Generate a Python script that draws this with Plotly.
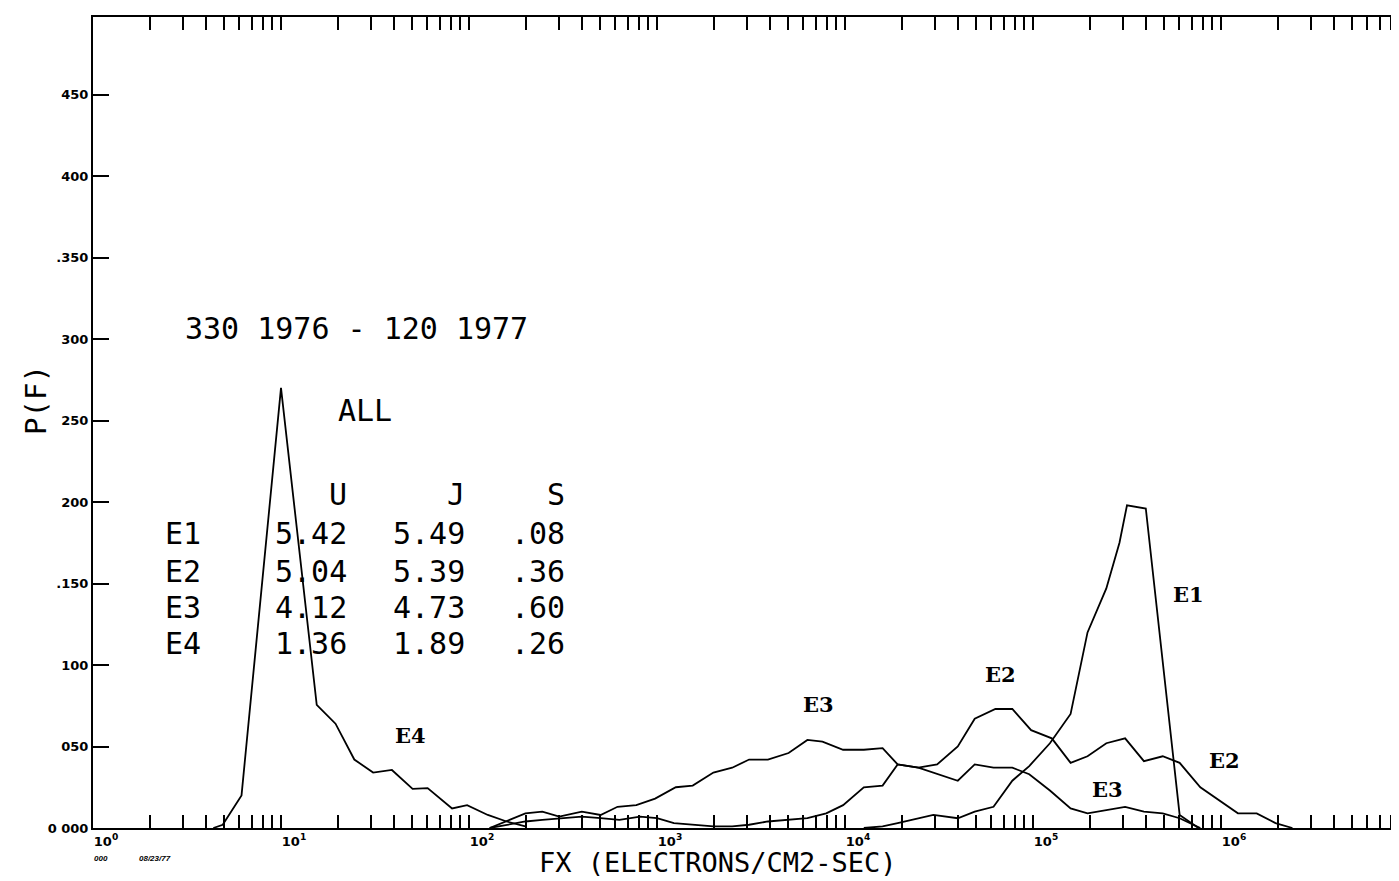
import plotly.graph_objects as go

# ---- data (log10 of FX, and P(F)) ----
E4_LOGFX = [0.64, 0.69, 0.79, 1.00, 1.19, 1.29, 1.39, 1.49, 1.59, 1.70, 1.78, 1.85, 1.91, 1.99, 2.10, 2.20, 2.30]
E4_P = [0.000, 0.002, 0.020, 0.270, 0.0755, 0.064, 0.042, 0.034, 0.0356, 0.024, 0.0245, 0.018, 0.012, 0.014, 0.008, 0.004, 0.001]

E3_LOGFX = [2.11, 2.30, 2.39, 2.48, 2.60, 2.70, 2.79, 2.89, 2.99, 3.10, 3.19, 3.30, 3.40, 3.49, 3.59, 3.70,
            3.80, 3.88, 3.99, 4.10, 4.20, 4.28, 4.39, 4.49, 4.60, 4.69, 4.79, 4.89, 4.98, 5.09, 5.20, 5.29,
            5.39, 5.49, 5.59, 5.69, 5.78, 5.89]
E3_P = [0.000, 0.009, 0.010, 0.007, 0.010, 0.008, 0.013, 0.014, 0.018, 0.025, 0.026, 0.034, 0.037, 0.042, 0.042, 0.046,
        0.054, 0.053, 0.048, 0.048, 0.049, 0.039, 0.037, 0.033, 0.029, 0.039, 0.037, 0.037, 0.033, 0.023, 0.012, 0.009,
        0.011, 0.013, 0.010, 0.009, 0.006, 0.000]

E2_LOGFX = [2.11, 2.30, 2.39, 2.48, 2.60, 2.70, 2.80, 2.91, 3.00, 3.09, 3.19, 3.30, 3.40, 3.49, 3.59, 3.70,
            3.80, 3.90, 3.99, 4.10, 4.20, 4.28, 4.39, 4.49, 4.60, 4.69, 4.80, 4.89, 4.99, 5.10, 5.20, 5.29,
            5.39, 5.49, 5.59, 5.69, 5.78, 5.89, 5.98, 6.09, 6.19, 6.29, 6.38]
E2_P = [0.000, 0.004, 0.005, 0.006, 0.007, 0.006, 0.005, 0.007, 0.006, 0.003, 0.002, 0.001, 0.001, 0.002, 0.004, 0.005,
        0.006, 0.009, 0.014, 0.025, 0.026, 0.039, 0.037, 0.039, 0.050, 0.067, 0.073, 0.073, 0.060, 0.055, 0.040, 0.044,
        0.052, 0.055, 0.041, 0.044, 0.040, 0.025, 0.018, 0.009, 0.009, 0.003, 0.000]

E1_LOGFX = [4.10, 4.20, 4.28, 4.39, 4.47, 4.60, 4.69, 4.79, 4.89, 4.98, 5.09, 5.20, 5.29, 5.39, 5.46, 5.50, 5.60, 5.78, 5.88]
E1_P = [0.000, 0.001, 0.003, 0.006, 0.008, 0.006, 0.010, 0.013, 0.029, 0.038, 0.052, 0.070, 0.120, 0.147, 0.175, 0.198, 0.196, 0.008, 0.000]

Y_TICKS = [0.0, 0.05, 0.10, 0.15, 0.20, 0.25, 0.30, 0.35, 0.40, 0.45]
Y_TICK_TEXT = ["0 000", "050", "100", ".150", "200", "250", "300", ".350", "400", "450"]
DECADES = [0, 1, 2, 3, 4, 5, 6]

TABLE_ROWS = ["E1", "E2", "E3", "E4"]
TABLE_U = ["5.42", "5.04", "4.12", "1.36"]
TABLE_J = ["5.49", "5.39", "4.73", "1.89"]
TABLE_S = [".08", ".36", ".60", ".26"]

TITLE_TEXT = "330 1976 - 120 1977"

# ---- figure ----
fig = go.Figure()
line = dict(color="black", width=1.8)
for name, lx, p in [("E1", E1_LOGFX, E1_P), ("E2", E2_LOGFX, E2_P), ("E3", E3_LOGFX, E3_P), ("E4", E4_LOGFX, E4_P)]:
    fig.add_trace(go.Scatter(x=[10 ** v for v in lx], y=p, mode="lines", line=line, name=name,
                             showlegend=False, hoverinfo="skip"))

# log ticks: every 1..9 x 10^k, labels at decades only
tickvals, ticktext = [], []
for k in DECADES:
    for m in range(1, 10):
        tickvals.append(m * 10 ** k)
        ticktext.append(f"10<sup>{k}</sup>" if m == 1 else "")

OFF = 8                      # page body margin
W, H = 1399 - OFF, 881 - OFF
PL, PT, PB, PR = 93, 17, 828, 1399   # plot-area edges in page pixels
DEC = 188.0                  # px per decade
UNIT = 1630.0                # px per 1.0 of P(F)
XMAX_LOG = (PR - PL) / DEC
YMAX = (PB - PT) / UNIT

fig.update_layout(
    width=W, height=H,
    margin=dict(l=PL - OFF, r=0, t=PT - OFF, b=H - (PB - OFF)),
    paper_bgcolor="white", plot_bgcolor="white",
    showlegend=False,
    xaxis=dict(type="log", range=[0, XMAX_LOG], showgrid=False, zeroline=False,
               showline=True, linecolor="black", linewidth=2, mirror="ticks",
               ticks="inside", ticklen=13, tickwidth=2, tickcolor="black",
               tickvals=tickvals, ticktext=ticktext, ticklabelshift=13, ticklabelstandoff=0,
               tickfont=dict(family="DejaVu Sans", size=13, color="black", weight="bold")),
    yaxis=dict(range=[0, YMAX], showgrid=False, zeroline=False,
               showline=True, linecolor="black", linewidth=2,
               ticks="inside", ticklen=16, tickwidth=2, tickcolor="black",
               tickvals=Y_TICKS, ticktext=Y_TICK_TEXT,
               tickfont=dict(family="DejaVu Sans", size=13, color="black", weight="bold")),
    yaxis2=dict(range=[0, YMAX], overlaying="y", side="right", anchor="x", showgrid=False,
                zeroline=False, showline=False, ticks="inside", ticklen=10, tickwidth=2,
                tickcolor="black", tickvals=Y_TICKS, showticklabels=False),
)

def px_to_logx(px):
    return (px - PL) / DEC

def py_to_y(py):
    return (PB - py) / UNIT

def px_paper(px):
    return (px - PL) / (PR - PL)

def py_paper(py):
    return (PB - py) / (PB - PT)

mono = dict(family="DejaVu Sans Mono", size=30, color="black")
serif = dict(family="DejaVu Serif", size=21, color="black", weight="bold")

ann = []
ann.append(dict(x=px_to_logx(356), y=py_to_y(328), text=TITLE_TEXT, xanchor="center", yanchor="middle", font=mono))
ann.append(dict(x=px_to_logx(365), y=py_to_y(410), text="ALL", xanchor="center", yanchor="middle", font=mono))
ann.append(dict(x=px_to_logx(349), y=py_to_y(494), text="U", xanchor="right", yanchor="middle", font=mono))
ann.append(dict(x=px_to_logx(467), y=py_to_y(494), text="J", xanchor="right", yanchor="middle", font=mono))
ann.append(dict(x=px_to_logx(567), y=py_to_y(494), text="S", xanchor="right", yanchor="middle", font=mono))
row_y = [533, 571, 607, 643]
for i, ry in enumerate(row_y):
    ann.append(dict(x=px_to_logx(163), y=py_to_y(ry), text=TABLE_ROWS[i], xanchor="left", yanchor="middle", font=mono))
    ann.append(dict(x=px_to_logx(349), y=py_to_y(ry), text=TABLE_U[i], xanchor="right", yanchor="middle", font=mono))
    ann.append(dict(x=px_to_logx(467), y=py_to_y(ry), text=TABLE_J[i], xanchor="right", yanchor="middle", font=mono))
    ann.append(dict(x=px_to_logx(567), y=py_to_y(ry), text=TABLE_S[i], xanchor="right", yanchor="middle", font=mono))

curve_labels = [("E4", 410, 735), ("E3", 818, 704), ("E2", 1000, 674), ("E1", 1188, 594),
                ("E2", 1224, 760), ("E3", 1107, 789)]
for t, cx, cy in curve_labels:
    ann.append(dict(x=px_to_logx(cx), y=py_to_y(cy), text=t, xanchor="center", yanchor="middle", font=serif))

for a in ann:
    a.update(xref="x", yref="y", showarrow=False)

# axis titles and small plot stamp (paper coordinates)
ann.append(dict(x=px_paper(718), y=py_paper(862), xref="paper", yref="paper", xanchor="center", yanchor="middle",
                text="FX (ELECTRONS/CM2-SEC)", showarrow=False,
                font=dict(family="DejaVu Sans Mono", size=27, color="black")))
ann.append(dict(x=px_paper(36), y=py_paper(400), xref="paper", yref="paper", xanchor="center", yanchor="middle",
                text="P(F)", textangle=-90, showarrow=False,
                font=dict(family="DejaVu Sans Mono", size=29, color="black")))
ann.append(dict(x=px_paper(92), y=py_paper(858), xref="paper", yref="paper", xanchor="left", yanchor="middle",
                text="<i>000</i>", showarrow=False,
                font=dict(family="Liberation Sans", size=8, color="black", weight="bold")))
ann.append(dict(x=px_paper(137), y=py_paper(858), xref="paper", yref="paper", xanchor="left", yanchor="middle",
                text="<i>08/23/77</i>", showarrow=False,
                font=dict(family="Liberation Sans", size=8, color="black", weight="bold")))

fig.update_layout(annotations=ann)

fig.write_html("out.html")
